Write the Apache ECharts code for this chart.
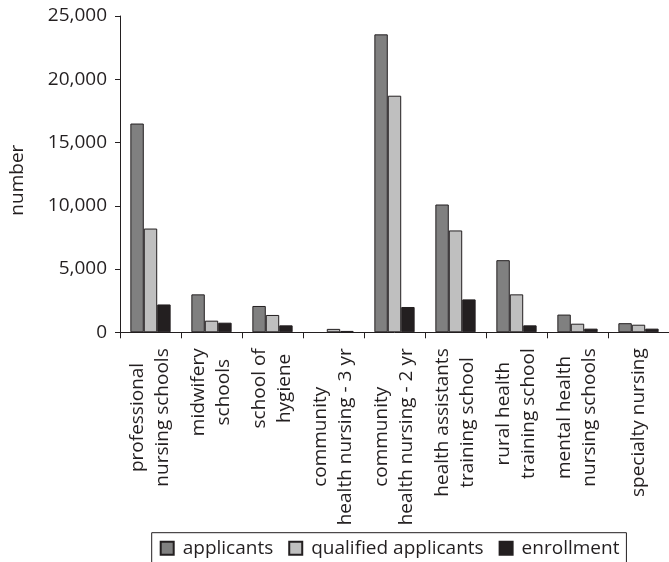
<!DOCTYPE html>
<html>
<head>
<meta charset="utf-8">
<script src="https://cdn.jsdelivr.net/npm/echarts@6/dist/echarts.min.js"></script>
<style>
html,body{margin:0;padding:0;background:#fff;}
#chart{width:669px;height:562px;}
</style>
</head>
<body>
<div id="chart"></div>
<script>
var categories = [
  "professional\nnursing schools",
  "midwifery\nschools",
  "school of\nhygiene",
  "community\nhealth nursing - 3 yr",
  "community\nhealth nursing - 2 yr",
  "health assistants\ntraining school",
  "rural health\ntraining school",
  "mental health\nnursing schools",
  "specialty nursing"
];
var applicants = [16500, 3000, 2080, null, 23550, 10100, 5700, 1400, 720];
var qualifiedApplicants = [8200, 920, 1370, 270, 18700, 8050, 3000, 680, 600];
var enrollment = [2200, 760, 550, 110, 2000, 2600, 550, 290, 290];
var yTicks = [0, 5000, 10000, 15000, 20000, 25000];

var ink = '#231f20';
var font = '"Open Sans", "Noto Sans", sans-serif';
var fs = 19;

var chart = echarts.init(document.getElementById('chart'), null, {renderer: 'canvas'});

function barSeries(name, data, color) {
  return {
    name: name,
    type: 'bar',
    data: data,
    barGap: '0%',
    barCategoryGap: '34%',
    itemStyle: {color: color, borderColor: ink, borderWidth: 1},
    emphasis: {disabled: true}
  };
}

chart.setOption({
  animation: false,
  backgroundColor: '#ffffff',
  textStyle: {fontFamily: font},
  grid: {left: 116.7, top: 16, width: 556.5, bottom: 229.7, containLabel: false},
  legend: {
    left: 151.7,
    top: 532.7,
    padding: [6, 7, 14, 8],
    borderColor: ink,
    borderWidth: 1,
    itemWidth: 13,
    itemHeight: 13,
    itemGap: 15,
    icon: 'rect',
    textStyle: {fontFamily: font, fontSize: fs, color: ink, padding: [0, 0, 0, 4]},
    data: ['applicants', 'qualified applicants', 'enrollment']
  },
  xAxis: {
    type: 'category',
    data: categories,
    axisLine: {lineStyle: {color: ink, width: 1}},
    axisTick: {show: true, length: 6, lineStyle: {color: ink}},
    axisLabel: {
      interval: 0,
      rotate: 90,
      margin: 16,
      color: ink,
      fontFamily: font,
      fontSize: fs,
      lineHeight: 25,
      formatter: function (v) {
        return v.split('\n').map(function (s) { return '{c|' + s + '}'; }).join('\n');
      },
      rich: {c: {align: 'center', fontFamily: font, fontSize: fs, color: ink, lineHeight: 25}}
    }
  },
  yAxis: {
    type: 'value',
    min: yTicks[0],
    max: yTicks[yTicks.length - 1],
    interval: yTicks[1] - yTicks[0],
    name: 'number',
    nameLocation: 'middle',
    nameGap: 93,
    nameTextStyle: {fontFamily: font, fontSize: fs, color: ink, padding: [0, 12, 0, 0]},
    axisLine: {show: true, lineStyle: {color: ink, width: 1}},
    axisTick: {show: true, length: 5, lineStyle: {color: ink}},
    splitLine: {show: false},
    axisLabel: {
      margin: 13,
      color: ink,
      fontFamily: font,
      fontSize: fs,
      formatter: function (v) { return v.toLocaleString('en-US'); }
    }
  },
  series: [
    barSeries('applicants', applicants, '#808080'),
    barSeries('qualified applicants', qualifiedApplicants, '#bfbfbf'),
    barSeries('enrollment', enrollment, ink)
  ]
});
</script>
</body>
</html>
